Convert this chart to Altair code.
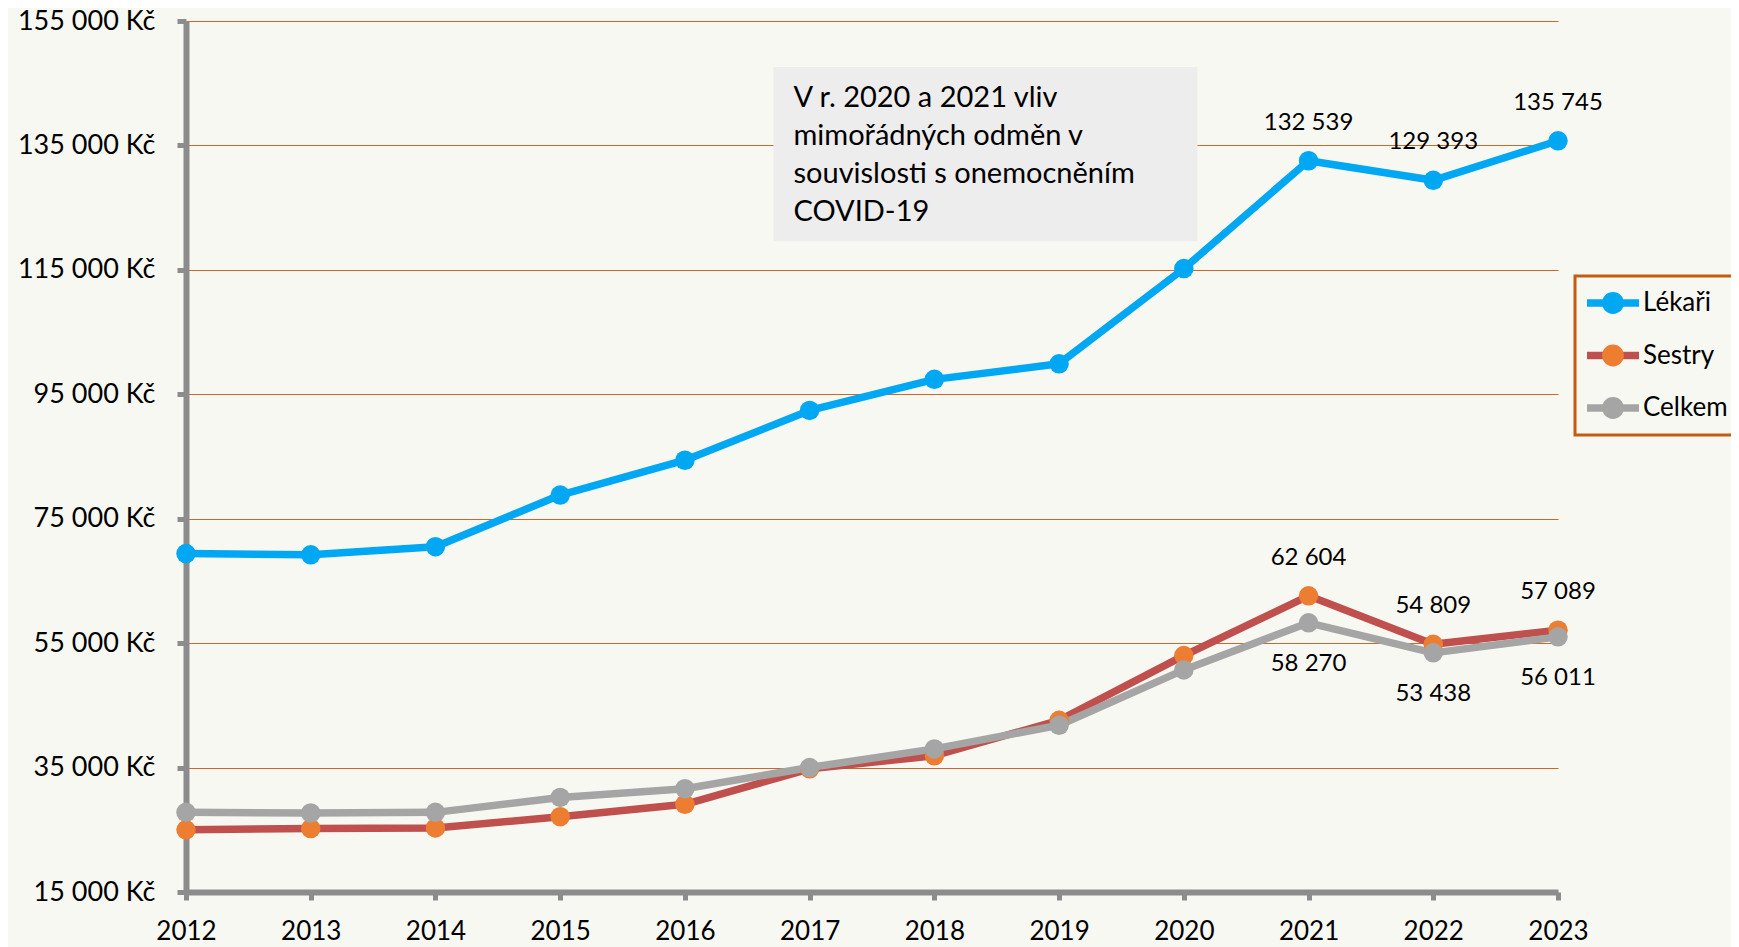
import altair as alt
import pandas as pd

# ---------------- data ----------------
years = [2012, 2013, 2014, 2015, 2016, 2017, 2018, 2019, 2020, 2021, 2022, 2023]
lekari = [69400, 69200, 70500, 78800, 84400, 92400, 97400, 99900, 115200, 132539, 129393, 135745]
sestry = [25000, 25200, 25300, 27100, 29100, 34800, 36900, 42600, 53000, 62604, 54809, 57089]
celkem = [27800, 27700, 27800, 30200, 31600, 35000, 38000, 41800, 50700, 58270, 53438, 56011]
series_names = ["Lékaři", "Sestry", "Celkem"]
labelled_years = [2021, 2022, 2023]
y_ticks = [15000, 35000, 55000, 75000, 95000, 115000, 135000, 155000]
note_lines = [
    "V r. 2020 a 2021 vliv",
    "mimořádných odměn v",
    "souvislosti s onemocněním",
    "COVID-19",
]

# ---------------- style ----------------
BG = "#F8F8F3"
GRID = "#C8692A"
AXIS = "#8C8C8C"
FONT = "Lato"
line_colors = ["#00A8F3", "#C0504D", "#A5A5A5"]
marker_colors = ["#00A8F3", "#ED7D31", "#A5A5A5"]

rows = []
for name, vals in zip(series_names, [lekari, sestry, celkem]):
    for yr, v in zip(years, vals):
        rows.append({
            "year": yr,
            "series": name,
            "marker": name,
            "value": v,
            "label": f"{v:,}".replace(",", " ") if yr in labelled_years else "",
        })
df = pd.DataFrame(rows)

# annotation box (data units)
note_df = pd.DataFrame([{
    "x1": 2016.71, "x2": 2020.11, "y1": 147600, "y2": 119600,
    "yt": 142600, "text": "\n".join(note_lines),
}])

W, H = 1372, 871
x_scale = alt.Scale(domain=[2012, 2023], nice=False, zero=False)
y_scale = alt.Scale(domain=[15000, 155000], nice=False, zero=False)

x_axis = alt.Axis(
    values=years, format="d", title=None, grid=False,
    domainColor=AXIS, domainWidth=6,
    tickColor=AXIS, tickWidth=5, tickSize=8,
    labelFont=FONT, labelFontSize=26, labelColor="black",
    labelPadding=18, labelFlush=False, labelOverlap=False,
)
y_axis = alt.Axis(
    values=y_ticks, title=None, grid=True, gridColor=GRID, gridWidth=1,
    domainColor=AXIS, domainWidth=6,
    tickColor=AXIS, tickWidth=5, tickSize=9,
    labelFont=FONT, labelFontSize=27, labelColor="black",
    labelPadding=22, labelFlush=False, labelOverlap=False,
    labelExpr="replace(format(datum.value, ','), ',', ' ') + ' Kč'",
)

X = alt.X("year:Q", scale=x_scale, axis=x_axis)
Y = alt.Y("value:Q", scale=y_scale, axis=y_axis)

LEG_X, LEG_Y = 1389, 255
common_leg = dict(
    title=None, orient="none", legendX=LEG_X, legendY=LEG_Y, direction="vertical",
    symbolSize=2704, symbolStrokeWidth=7.5,
    labelFont=FONT, labelFontSize=26, labelOffset=0,
    padding=8, rowPadding=14.5, clipHeight=38,
)
stroke_legend = alt.Legend(
    symbolType="stroke", labelColor="black",
    strokeColor="#C55A11", fillColor=BG, zindex=0,
    **common_leg,
)
fill_legend = alt.Legend(
    symbolType="M-1,0L1,0M0.42,0A0.42,0.42,0,1,1,-0.42,0A0.42,0.42,0,1,1,0.42,0Z",
    symbolStrokeColor="transparent", labelColor="transparent", zindex=1,
    **common_leg,
)

note_box = alt.Chart(note_df).mark_rect(color="#EDEDED").encode(
    x=alt.X("x1:Q", scale=x_scale, axis=x_axis), x2="x2:Q",
    y=alt.Y("y1:Q", scale=y_scale, axis=y_axis), y2="y2:Q",
)
note_text = alt.Chart(note_df).mark_text(
    align="left", baseline="middle", dx=20, lineBreak="\n", lineHeight=38,
    font=FONT, fontSize=29, color="black",
).encode(
    x=alt.X("x1:Q", scale=x_scale, axis=x_axis),
    y=alt.Y("yt:Q", scale=y_scale, axis=y_axis),
    text="text:N",
)

lines = alt.Chart(df).mark_line(strokeWidth=7.5, strokeJoin="round", strokeCap="round").encode(
    x=X, y=Y,
    stroke=alt.Stroke("series:N", scale=alt.Scale(domain=series_names, range=line_colors),
                      legend=stroke_legend),
)
points = alt.Chart(df).mark_circle(size=380, opacity=1).encode(
    x=X, y=Y,
    fill=alt.Fill("marker:N", sort=series_names, scale=alt.Scale(range=marker_colors),
                  legend=fill_legend),
)
labels_above = alt.Chart(df).transform_filter(
    "datum.label != '' && datum.series != 'Celkem'"
).mark_text(dy=-38, font=FONT, fontSize=24, color="black").encode(x=X, y=Y, text="label:N")
labels_below = alt.Chart(df).transform_filter(
    "datum.label != '' && datum.series == 'Celkem'"
).mark_text(dy=41, font=FONT, fontSize=24, color="black").encode(x=X, y=Y, text="label:N")

chart = alt.layer(note_box, note_text, lines, points, labels_above, labels_below).properties(
    width=W, height=H, background=BG,
    padding={"left": 178, "top": 13, "right": 173, "bottom": 55},
    autosize=alt.AutoSizeParams(type="none"),
).configure_view(strokeWidth=0).configure_legend(strokeWidth=3)

chart.save("out.html", embed_options={"renderer": "svg", "actions": False})
